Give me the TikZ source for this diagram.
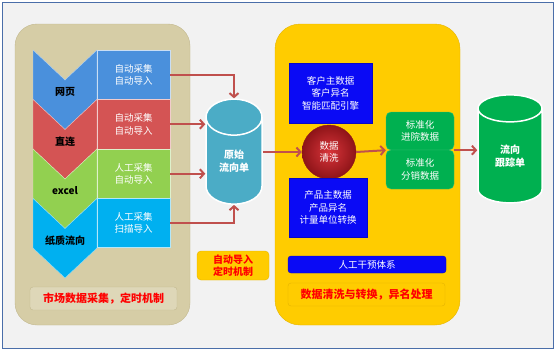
\documentclass[tikz,border=0pt]{standalone}
\usepackage{fontspec}
\usepackage{tikz}
\usetikzlibrary{arrows.meta, shapes.geometric}
\newfontfamily\cjk{Noto Sans CJK SC}

\definecolor{frameblue}{HTML}{4A6EA9}
\definecolor{panelgrey}{HTML}{F2F2F2}
\definecolor{tan}{HTML}{D6CDA6}
\definecolor{tanline}{HTML}{C2B88E}
\definecolor{gold}{HTML}{FFCC00}
\definecolor{goldline}{HTML}{E5B400}
\definecolor{deepblue}{HTML}{0A0AF5}
\definecolor{stdgreen}{HTML}{00B050}
\definecolor{teal}{HTML}{4BACC6}
\definecolor{arrowred}{HTML}{C0504D}
\definecolor{webblue}{HTML}{4A90DC}
\definecolor{linkred}{HTML}{D45454}
\definecolor{xlgreen}{HTML}{92D050}
\definecolor{papercyan}{HTML}{00B0F0}
\definecolor{washred}{HTML}{D8343A}
\definecolor{washdark}{HTML}{8E1418}

\tikzset{
  txt/.style={font=\cjk\fontsize{9.5}{12.5}\selectfont, align=center},
  srcbox/.style={txt, text=white, minimum width=73pt, minimum height=49.5pt, inner sep=0pt, draw=white!70!#1, fill=#1},
  bluebox/.style={txt, text=white, fill=deepblue, draw=deepblue!80!black, inner sep=0pt},
  stdbox/.style={txt, text=white, fill=stdgreen, draw=stdgreen!80!white, rounded corners=5pt, minimum width=68pt, inner sep=0pt},
  redlabel/.style={font=\cjk\bfseries\fontsize{11}{13}\selectfont, text=red, align=center, inner sep=0pt},
  store/.style={cylinder, shape border rotate=90, draw=white, line width=1.5pt, inner sep=0pt, font=\cjk\bfseries\fontsize{10}{13}\selectfont, text=white, align=center},
  flow/.style={draw=arrowred, line width=2pt, -{Straight Barb[length=4pt, width=9pt]}}
}

\begin{document}
\begin{tikzpicture}[x=1pt, y=-1pt]
  % Rahmen
  \useasboundingbox (0,0) rectangle (556,351);
  \fill[white] (0,0) rectangle (556,351);
  \draw[frameblue, line width=1.2pt, fill=panelgrey] (2.5,2.5) rectangle (553.5,348.5);

  % Felder
  \draw[tanline, fill=tan, rounded corners=22pt] (15,24) rectangle (190,325);
  \draw[goldline, fill=gold, rounded corners=25pt] (275,24) rectangle (460,325);

  % Quellen
  \foreach \y/\col/\name/\lab [count=\i] in {50/webblue/web/网页, 99.5/linkred/link/直连, 149/xlgreen/xls/excel, 198.5/papercyan/paper/纸质流向}{
    \draw[fill=\col, draw=white!60!\col] (33,\y) -- (65,\y+30) -- (97,\y) -- (97,\y+49.5) -- (65,\y+79.5) -- (33,\y+49.5) -- cycle;
    \node[font=\cjk\bfseries\fontsize{10}{12}\selectfont] (\name) at (65,\y+42) {\lab};
  }
  \node[srcbox=webblue] (b1) at (133.5,74.75) {自动采集\\自动导入};
  \node[srcbox=linkred] (b2) at (133.5,124.25) {自动采集\\自动导入};
  \node[srcbox=xlgreen] (b3) at (133.5,173.75) {人工采集\\自动导入};
  \node[srcbox=papercyan] (b4) at (133.5,222.75) {人工采集\\扫描导入};

  \node[redlabel, fill=tan!80!white, draw=tanline, rounded corners=3pt, minimum width=147pt, minimum height=23pt] (market) at (103.5,298.5) {市场数据采集，定时机制};

  % Speicher
  \node[store, fill=teal, minimum width=56pt, minimum height=105pt, aspect=1.2] (raw) at (234,161) {原始\\流向单};
  \node[redlabel, font=\cjk\bfseries\fontsize{10}{12.5}\selectfont, fill=gold, draw=goldline, rounded corners=4pt, minimum width=72pt, minimum height=29pt] (auto) at (233,265.5) {自动导入\\定时机制};

  % Bereinigung
  \node[bluebox, minimum width=83pt, minimum height=60pt] (cust) at (330.5,93) {客户主数据\\客户异名\\智能匹配引擎};
  \node[circle, inner color=washred, outer color=washdark, draw=washdark, minimum size=54pt, inner sep=0pt, txt, text=white] (wash) at (329,152) {数据\\清洗};
  \node[bluebox, minimum width=78pt, minimum height=59pt] (prod) at (328,207.5) {产品主数据\\产品异名\\计量单位转换};
  \node[bluebox, rounded corners=3pt, minimum width=158pt, minimum height=17pt] (manual) at (367,264.5) {人工干预体系};
  \node[redlabel, fill=gold, draw=goldline, rounded corners=3pt, minimum width=157pt, minimum height=23pt] (clean) at (366.5,294.5) {数据清洗与转换，异名处理};

  \node[stdbox, minimum height=38pt] (std1) at (420,131) {标准化\\进院数据};
  \node[stdbox, minimum height=39pt] (std2) at (420,169.5) {标准化\\分销数据};

  \node[store, fill=stdgreen, minimum width=64pt, minimum height=108pt, aspect=0.9] (track) at (510,156) {流向\\跟踪单};

  % Pfeile
  \draw[flow] (b1.east) -| (raw.north);
  \draw[flow] (b2.east) -- (raw.west |- b2.east);
  \draw[flow] (b3.east) -- (raw.west |- b3.east);
  \draw[flow] (b4.east) -| (raw.south);
  \draw[flow] (raw.east |- wash.west) -- (wash.west);
  \draw[flow] (wash.east) -- (std1.south west);
  \draw[flow] (std1.south east) -- (track.west |- std1.south east);
\end{tikzpicture}
\end{document}
